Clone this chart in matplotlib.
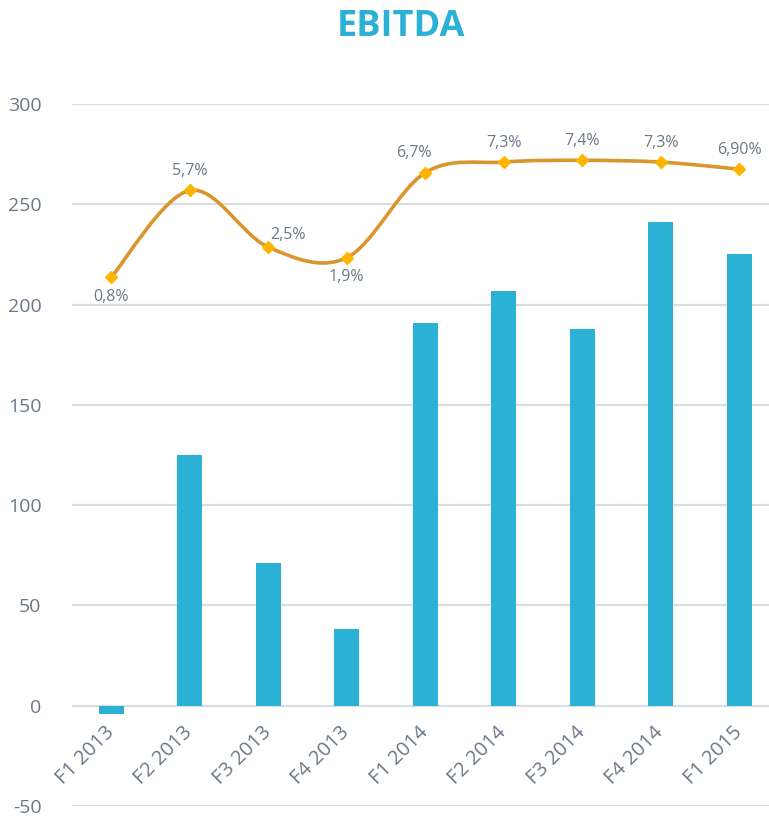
import numpy as np
import matplotlib.pyplot as plt
from matplotlib.path import Path
from matplotlib.patches import PathPatch

plt.rcParams['font.family'] = ['Open Sans', 'DejaVu Sans']

# data
quarters = ["F1 2013", "F2 2013", "F3 2013", "F4 2013", "F1 2014",
            "F2 2014", "F3 2014", "F4 2014", "F1 2015"]
ebitda = [-4, 125, 71, 38, 191, 207, 188, 241, 225]
margin = [0.8, 5.7, 2.5, 1.9, 6.7, 7.3, 7.4, 7.3, 6.9]
margin_labels = ["0,8%", "5,7%", "2,5%", "1,9%", "6,7%",
                 "7,3%", "7,4%", "7,3%", "6,90%"]
yticks = [-50, 0, 50, 100, 150, 200, 250, 300]

BLUE = "#2BB1D6"
LINE = "#D9962E"
MARKER = "#FFB400"
GREY = "#6B7888"
GRID = "#DADEE3"


def smooth_path(xs, ys):
    # Excel-like smoothed line: cubic Bezier segments through every point
    pts = np.column_stack([xs, ys]).astype(float)
    n = len(pts)
    verts = [pts[0]]
    codes = [Path.MOVETO]
    for i in range(n - 1):
        p0 = pts[max(i - 1, 0)]
        p1 = pts[i]
        p2 = pts[i + 1]
        p3 = pts[min(i + 2, n - 1)]
        c1 = p1 + (p2 - p0) / 6.0
        c2 = p2 - (p3 - p1) / 6.0
        verts += [c1, c2, p2]
        codes += [Path.CURVE4] * 3
    return Path(verts, codes)


fig = plt.figure(figsize=(7.69, 8.16), dpi=100)
ax = fig.add_axes([72 / 769, 10 / 816, 697 / 769, 702 / 816])

x = np.arange(len(quarters))
ax.bar(x, ebitda, width=0.32, color=BLUE, zorder=3)

ax.set_ylim(-50, 300)
ax.set_xlim(-0.5, 8.38)
ax.set_yticks(yticks)
ax.set_yticklabels([str(v) for v in yticks])
ax.yaxis.grid(True, color=GRID, linewidth=1.6, zorder=0)
ax.set_axisbelow(True)
for s in ax.spines.values():
    s.set_visible(False)
# category axis crosses at zero, as in the source chart
ax.spines['bottom'].set_position(('data', 0))
ax.tick_params(axis='y', length=0, pad=22, labelsize=14, labelcolor=GREY)
ax.tick_params(axis='x', length=0, pad=17, labelsize=14.5, labelcolor=GREY)
ax.set_xticks(x)
ax.set_xticklabels(quarters, rotation=45, ha='right', va='center',
                   rotation_mode='anchor')

# margin line on a hidden secondary scale
ax2 = ax.twinx()
ax2.set_ylim(-29.06, 10.58)
ax2.set_axis_off()
ax2.add_patch(PathPatch(smooth_path(x, margin), facecolor='none',
                        edgecolor=LINE, linewidth=2.6, zorder=4))
ax2.plot(x, margin, linestyle='none', marker='D', markersize=6,
         color=MARKER, zorder=5)

offsets = [(0, -14), (0, 14), (14, 9), (0, -14), (-8, 14),
           (0, 14), (0, 14), (0, 14), (0, 14)]
for xi, m, lab, off in zip(x, margin, margin_labels, offsets):
    ax2.annotate(lab, (xi, m), xytext=off, textcoords='offset points',
                 ha='center', va='center', fontsize=11.5, color=GREY)

fig.text(401 / 769, 1 - 27 / 816, "EBITDA", ha='center', va='center',
         fontsize=26, fontweight='bold', color=BLUE)

fig.savefig("out.png", dpi=100)
